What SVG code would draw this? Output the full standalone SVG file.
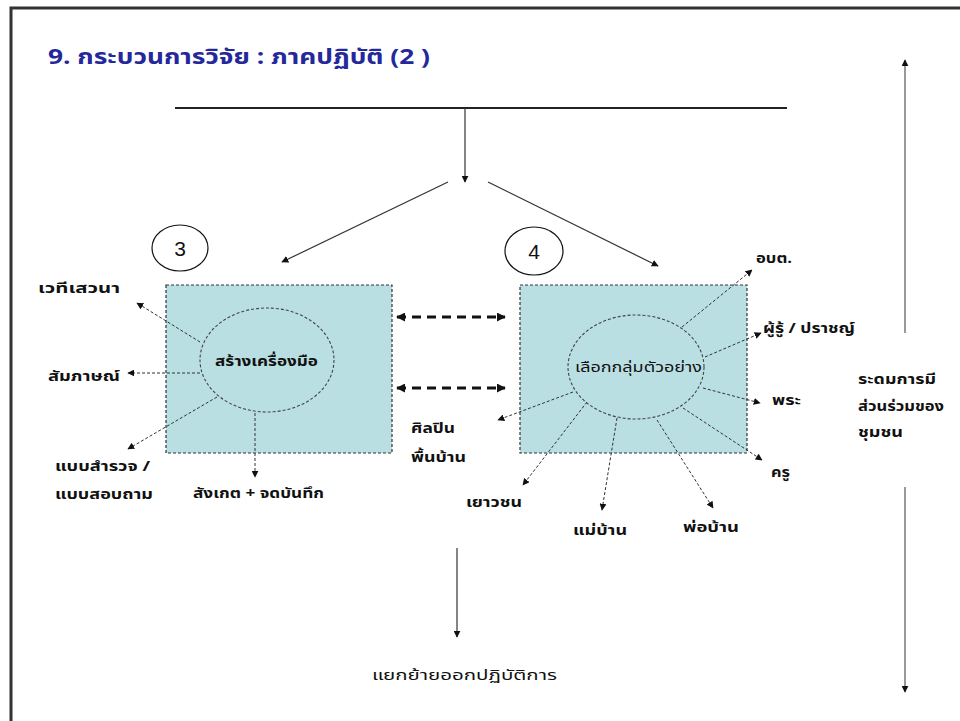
<svg xmlns="http://www.w3.org/2000/svg" width="960" height="721" viewBox="0 0 960 721">
<style>
.lbl{font-family:"Noto Sans Thai","Noto Sans","DejaVu Sans","Liberation Sans",sans-serif;font-size:14px;font-weight:bold;fill:#111;}
.reg{font-weight:normal;}
.title{font-family:"Noto Sans Thai","Noto Sans","Liberation Sans",sans-serif;font-size:22px;font-weight:bold;fill:#24289a;}
.num{font-family:"Liberation Sans",sans-serif;font-size:21px;fill:#111;}
.dot{fill:none;stroke:#333;stroke-width:1;stroke-dasharray:3 2;}
.solid{fill:none;stroke:#333;stroke-width:1.2;}
.box{fill:#b9dfe3;stroke:#333;stroke-width:1.2;stroke-dasharray:3 2;}
.ell{fill:none;stroke:#444;stroke-width:1.1;stroke-dasharray:3 2;}
.thick{fill:none;stroke:#111;stroke-width:3;stroke-dasharray:9 6;}
</style>
<defs>
<marker id="ah" viewBox="0 0 10 10" refX="9" refY="5" markerWidth="7" markerHeight="7" orient="auto" markerUnits="userSpaceOnUse"><path d="M0,0 L10,5 L0,10 z" fill="#111"/></marker>
<marker id="ahb" viewBox="0 0 10 10" refX="9" refY="5" markerWidth="9" markerHeight="9" orient="auto-start-reverse" markerUnits="userSpaceOnUse"><path d="M0,0 L10,5 L0,10 z" fill="#111"/></marker>
</defs>
<rect x="0" y="0" width="960" height="721" fill="#fff"/>
<rect x="11" y="8" width="970" height="730" fill="none" stroke="#333" stroke-width="3"/>
<text class="title" x="48" y="64" textLength="382" lengthAdjust="spacingAndGlyphs">9. กระบวนการวิจัย : ภาคปฏิบัติ (2 )</text>

<g id="node3">
<ellipse cx="180" cy="248" rx="28" ry="23" fill="#fff" stroke="#111" stroke-width="1.2"/>
<text class="num" x="180" y="256" text-anchor="middle">3</text>
</g>
<g id="node4">
<ellipse cx="534" cy="251" rx="29" ry="24" fill="#fff" stroke="#111" stroke-width="1.2"/>
<text class="num" x="534" y="259" text-anchor="middle">4</text>
</g>
<g id="boxLeft">
<rect class="box" x="166" y="285" width="226" height="168"/>
<ellipse class="ell" cx="267" cy="360" rx="67" ry="52"/>
<text class="lbl" x="215" y="366" textLength="103" lengthAdjust="spacingAndGlyphs">สร้างเครื่องมือ</text>
</g>
<g id="boxRight">
<rect class="box" x="520" y="285" width="227" height="168"/>
<ellipse class="ell" cx="636" cy="367" rx="68" ry="52"/>
<text class="lbl reg" x="575" y="372" textLength="127" lengthAdjust="spacingAndGlyphs">เลือกกลุ่มตัวอย่าง</text>
</g>

<g id="labels">
<text class="lbl" x="38" y="293" textLength="82" lengthAdjust="spacingAndGlyphs">เวทีเสวนา</text>
<text class="lbl" x="48" y="381" textLength="72" lengthAdjust="spacingAndGlyphs">สัมภาษณ์</text>
<text class="lbl" x="55" y="471" textLength="95" lengthAdjust="spacingAndGlyphs">แบบสำรวจ /</text>
<text class="lbl" x="55" y="499" textLength="98" lengthAdjust="spacingAndGlyphs">แบบสอบถาม</text>
<text class="lbl" x="193" y="498" textLength="131" lengthAdjust="spacingAndGlyphs">สังเกต + จดบันทึก</text>
<text class="lbl" x="756" y="263" textLength="36" lengthAdjust="spacingAndGlyphs">อบต.</text>
<text class="lbl" x="763" y="333" textLength="92" lengthAdjust="spacingAndGlyphs">ผู้รู้ / ปราชญ์</text>
<text class="lbl" x="772" y="405" textLength="29" lengthAdjust="spacingAndGlyphs">พระ</text>
<text class="lbl" x="771" y="477" textLength="19" lengthAdjust="spacingAndGlyphs">ครู</text>
<text class="lbl" x="683" y="532" textLength="56" lengthAdjust="spacingAndGlyphs">พ่อบ้าน</text>
<text class="lbl" x="573" y="535" textLength="54" lengthAdjust="spacingAndGlyphs">แม่บ้าน</text>
<text class="lbl" x="466" y="507" textLength="56" lengthAdjust="spacingAndGlyphs">เยาวชน</text>
<text class="lbl" x="411" y="433" textLength="44" lengthAdjust="spacingAndGlyphs">ศิลปิน</text>
<text class="lbl" x="411" y="462" textLength="55" lengthAdjust="spacingAndGlyphs">พื้นบ้าน</text>
<text class="lbl" x="858" y="384" textLength="78" lengthAdjust="spacingAndGlyphs">ระดมการมี</text>
<text class="lbl" x="858" y="411" textLength="86" lengthAdjust="spacingAndGlyphs">ส่วนร่วมของ</text>
<text class="lbl" x="858" y="437" textLength="45" lengthAdjust="spacingAndGlyphs">ชุมชน</text>
<text class="lbl reg" x="372" y="680" textLength="185" lengthAdjust="spacingAndGlyphs">แยกย้ายออกปฏิบัติการ</text>
</g>

<g id="connectors">
<line x1="175" y1="108" x2="787" y2="108" stroke="#222" stroke-width="2"/>
<line class="solid" x1="465" y1="108" x2="465" y2="182" marker-end="url(#ah)"/>
<line class="solid" x1="448" y1="182" x2="282" y2="262" marker-end="url(#ah)"/>
<line class="solid" x1="488" y1="182" x2="658" y2="266" marker-end="url(#ah)"/>
<line class="thick" x1="397" y1="317" x2="505" y2="317" marker-start="url(#ahb)" marker-end="url(#ahb)"/>
<line class="thick" x1="397" y1="388" x2="505" y2="388" marker-start="url(#ahb)" marker-end="url(#ahb)"/>
<line class="dot" x1="200" y1="342" x2="137" y2="303" marker-end="url(#ah)"/>
<line class="dot" x1="200" y1="373" x2="128" y2="373" marker-end="url(#ah)"/>
<line class="dot" x1="217" y1="397" x2="128" y2="449" marker-end="url(#ah)"/>
<line class="dot" x1="255" y1="413" x2="255" y2="477" marker-end="url(#ah)"/>
<line class="dot" x1="682" y1="327" x2="752" y2="270" marker-end="url(#ah)"/>
<line class="dot" x1="705" y1="357" x2="761" y2="333" marker-end="url(#ah)"/>
<line class="dot" x1="703" y1="388" x2="760" y2="403" marker-end="url(#ah)"/>
<line class="dot" x1="683" y1="408" x2="762" y2="460" marker-end="url(#ah)"/>
<line class="dot" x1="657" y1="420" x2="713" y2="508" marker-end="url(#ah)"/>
<line class="dot" x1="617" y1="418" x2="602" y2="510" marker-end="url(#ah)"/>
<line class="dot" x1="587" y1="402" x2="523" y2="485" marker-end="url(#ah)"/>
<line class="dot" x1="573" y1="392" x2="498" y2="420" marker-end="url(#ah)"/>
<line class="solid" x1="457" y1="548" x2="457" y2="637" marker-end="url(#ah)"/>
<line x1="905" y1="333" x2="905" y2="60" stroke="#999" stroke-width="2" marker-end="url(#ah)"/>
<line x1="905" y1="487" x2="905" y2="692" stroke="#999" stroke-width="2" marker-end="url(#ah)"/>
</g>
</svg>
